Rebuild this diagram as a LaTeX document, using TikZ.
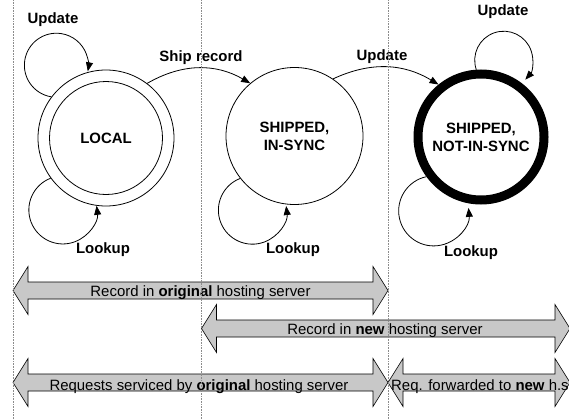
\documentclass[tikz,border=0pt]{standalone}
\usepackage{fontspec}
\setmainfont{Liberation Sans}
\setsansfont{Liberation Sans}
\usetikzlibrary{arrows.meta}

\tikzset{
  state/.style={circle, draw, line width=0.8bp, inner sep=0pt, align=center,
    font=\bfseries\fontsize{15}{18}\selectfont},
  lbl/.style={inner sep=0pt, font=\bfseries\fontsize{15}{18}\selectfont},
  trans/.style={line width=0.8bp, -{Triangle[length=9bp,width=7bp]}},
  spantxt/.style={anchor=base, inner sep=0pt, font=\fontsize{15}{18}\selectfont},
}

\begin{document}
\begin{tikzpicture}[x=1bp,y=1bp]
    \definecolor{spanfill}{RGB}{200,200,200}
    \definecolor{guide}{RGB}{140,140,140}
    \useasboundingbox (0,0) rectangle (569,419);

    % states
    \node[state, minimum size=136bp] (local) at (106,281) {LOCAL};
    \draw[line width=0.8bp] (local.center) circle[radius=56.5];
    \node[state, minimum size=137bp] (insync) at (294.5,283) {SHIPPED,\\IN-SYNC};
    \node[state, minimum size=126bp, line width=9bp] (notsync) at (481,282) {SHIPPED,\\NOT-IN-SYNC};

    % self loops
    \draw[trans] (local.143) arc[start angle=261, end angle=-11, radius=32];
    \draw[trans] (local.216) arc[start angle=111, end angle=367, radius=34];
    \draw[trans] (insync.218) arc[start angle=111, end angle=367, radius=34];
    \draw[trans] (notsync.94) arc[start angle=199, end angle=-42, radius=29];
    \draw[trans] (notsync.216) arc[start angle=102, end angle=365, radius=35];

    % transitions
    \draw[trans] (local.53) to[bend left=30] (insync.130);
    \draw[trans] (insync.56) to[bend left=28] (notsync.129);

    \node[lbl] (upd1) at (53,399) {Update};
    \node[lbl] (ship) at (201,361) {Ship record};
    \node[lbl] (upd2) at (382,362) {Update};
    \node[lbl] (upd3) at (503,407) {Update};
    \node[lbl] (look1) at (103,169) {Lookup};
    \node[lbl] (look2) at (293,169) {Lookup};
    \node[lbl] (look3) at (471,166) {Lookup};

    % where the record lives, who serves requests
    \foreach \xa/\xb/\yc in {13/388/128.5, 201.5/570/90.5, 13/388/36.5, 388/570/36.5}
      \draw[line width=0.6bp, fill=spanfill]
        (\xa,\yc) -- ++(15,24) -- ++(0,-15.5) -- (\xb-15,\yc+8.5) -- ++(0,15.5)
        -- (\xb,\yc) -- ++(-15,-24) -- ++(0,15.5) -- (\xa+15,\yc-8.5) -- ++(0,-15.5) -- cycle;

    \node[spantxt] (origrec) at (200.5,123) {Record in \textbf{original} hosting server};
    \node[spantxt] (newrec) at (385,85) {Record in \textbf{new} hosting server};
    \node[spantxt] (origreq) at (199,29) {Requests serviced by \textbf{original} hosting server};
    \node[spantxt, anchor=base west] (fwdreq) at (391,29) {Req. forwarded to \textbf{new} h.s};

    % phase boundaries
    \foreach \gx in {13,201.5,388}
      \draw[densely dotted, guide, line width=0.6bp] (\gx,0) -- (\gx,419);
\end{tikzpicture}
\end{document}
